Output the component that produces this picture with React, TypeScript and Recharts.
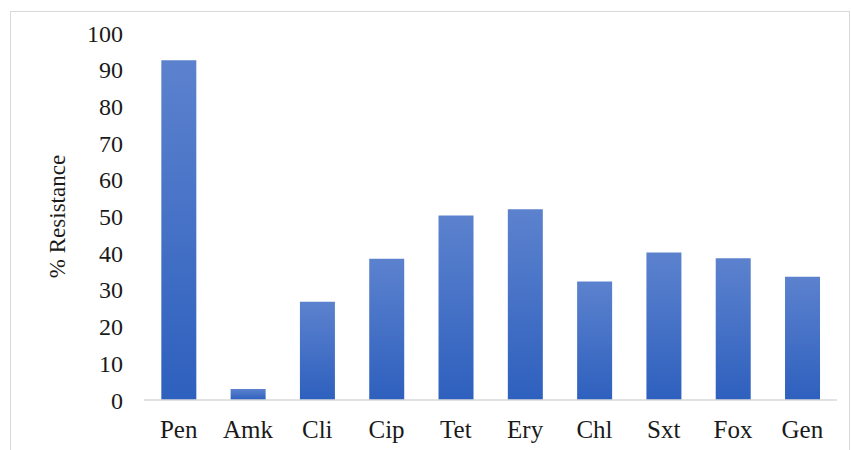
import { BarChart, Bar, XAxis, YAxis, Label } from 'recharts';

const drugs = ['Pen', 'Amk', 'Cli', 'Cip', 'Tet', 'Ery', 'Chl', 'Sxt', 'Fox', 'Gen'];
const resistance = [92.6, 3, 26.8, 38.5, 50.3, 52, 32.3, 40.2, 38.6, 33.6];
const yTicks = [0, 10, 20, 30, 40, 50, 60, 70, 80, 90, 100];

const chartData = drugs.map((name, i) => ({ name, value: resistance[i] }));

const font = 'Liberation Serif, Times New Roman, serif';

export default function App() {
  return (
    <div style={{ position: 'absolute', left: 0, top: 0, width: 851, height: 450, background: '#fff' }}>
      {/* chart frame */}
      <div
        style={{
          position: 'absolute',
          left: 10,
          top: 11,
          width: 838,
          height: 450,
          borderLeft: '1px solid #d9d9d9',
          borderTop: '1px solid #d9d9d9',
          borderRight: '1px solid #d9d9d9',
        }}
      />
      <BarChart
        width={851}
        height={450}
        data={chartData}
        margin={{ top: 33, right: 14, bottom: 20, left: 0 }}
        barCategoryGap="25%"
        style={{ position: 'absolute', left: 0, top: 0 }}
      >
        <defs>
          <linearGradient id="barFill" x1="0" y1="0" x2="0" y2="1">
            <stop offset="0%" stopColor="#5C82CE" />
            <stop offset="100%" stopColor="#2E60BE" />
          </linearGradient>
        </defs>
        <XAxis
          dataKey="name"
          height={30}
          tickLine={false}
          axisLine={{ stroke: '#d9d9d9', strokeWidth: 1.5 }}
          tick={{ fill: '#1a1a1a', fontSize: 25, fontFamily: font }}
          tickMargin={14}
          interval={0}
        />
        <YAxis
          width={144}
          domain={[0, 100]}
          ticks={yTicks}
          axisLine={false}
          tickLine={false}
          tickSize={0}
          tickMargin={21}
          tick={{ fill: '#1a1a1a', fontSize: 24, fontFamily: font }}
        >
          <Label
            content={({ viewBox }: any) => {
              const cy = viewBox.y + viewBox.height / 2;
              return (
                <text
                  x={57}
                  y={cy}
                  transform={`rotate(-90, 57, ${cy})`}
                  textAnchor="middle"
                  dominantBaseline="central"
                  fill="#1a1a1a"
                  fontSize={23}
                  style={{ fontFamily: font }}
                >
                  % Resistance
                </text>
              );
            }}
          />
        </YAxis>
        <Bar dataKey="value" fill="url(#barFill)" isAnimationActive={false} />
      </BarChart>
    </div>
  );
}
